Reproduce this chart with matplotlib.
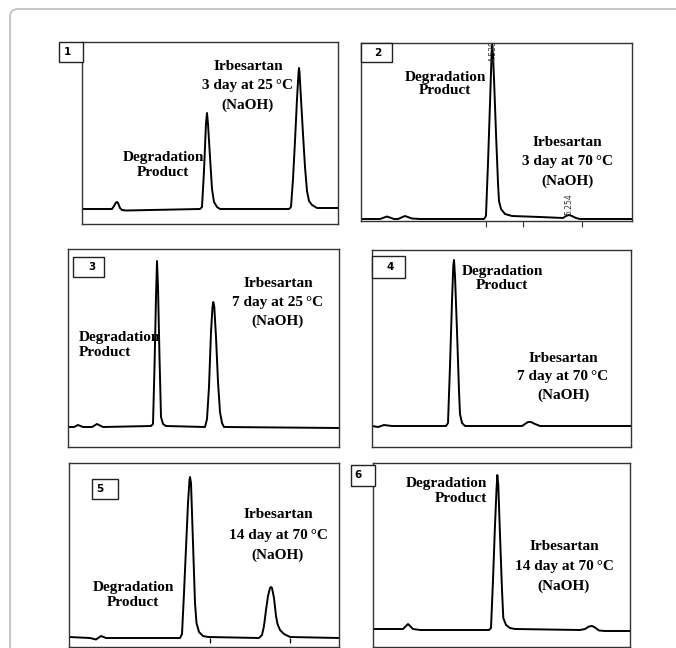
#chromatogramas de degradacion de irbesartan en NaOH
import matplotlib.pyplot as plt
from matplotlib.patches import FancyBboxPatch, Rectangle

W, H = 676, 648

#panel 1: 3 dias a 25 C (tiempo en min, respuesta en mAU)
t1 = [0, 0.75, 0.8, 0.85, 0.875, 0.9, 0.95, 1.0, 1.1,
      2.95, 3.0, 3.05, 3.1, 3.125, 3.15, 3.2, 3.25, 3.3, 3.375, 3.45,
      5.175, 5.225, 5.275, 5.325, 5.375, 5.4125, 5.425, 5.4375, 5.475, 5.525, 5.575, 5.625,
      5.675, 5.75, 5.875, 6.4]
a1 = [0, 0, 3, 6.5, 7, 6, 1, -1, -1.5,
      0, 2, 38, 86, 96, 85, 52, 20, 7, 2, 0,
      0, 2, 30, 68, 110, 136, 141, 137, 110, 75, 42, 18,
      8, 4, 1, 1]

#panel 2: 3 dias a 70 C
t2 = [3.302, 3.481, 3.547, 3.613, 3.651, 3.717, 3.783, 3.859,
      4.463, 4.481, 4.500, 4.519, 4.529, 4.538, 4.547, 4.557, 4.576, 4.595, 4.604, 4.623,
      4.661, 4.727, 4.991, 5.208, 5.236, 5.264, 5.292, 5.330, 5.368, 5.86]
a2 = [0, 0, 2.5, 0, 0, 3, 0.5, 0,
      0, 3, 55, 115, 148, 177, 165, 140, 85, 35, 18, 10,
      5, 3, 2, 1, 3, 4, 3, 1, 0, 0]
rt2 = [4.538, 5.254]
ticks2 = [4.48, 4.83, 5.39]

#panel 3: 7 dias a 25 C
t3 = [0, 0.15, 0.25, 0.375, 0.6, 0.725, 0.875,
      2.075, 2.125, 2.1625, 2.2, 2.225, 2.25, 2.2875, 2.325, 2.375, 2.45,
      3.425, 3.475, 3.525, 3.575, 3.6125, 3.6325, 3.6575, 3.7, 3.75, 3.8, 3.85, 3.9, 6.775]
a3 = [0, 0, 2, 0, 0, 3, 0,
      1, 3, 60, 130, 166, 140, 70, 10, 3, 1,
      0, 8, 40, 95, 120, 125, 120, 90, 45, 15, 4, 0, -1]

#panel 4: 7 dias a 70 C
t4 = [0, 0.15, 0.3, 0.5,
      1.85, 1.9, 1.95, 2.0, 2.0325, 2.05, 2.075, 2.125, 2.175, 2.2, 2.25, 2.325,
      3.75, 3.825, 3.9, 3.975, 4.075, 4.2, 6.475]
a4 = [0, -1, 1, 0,
      0, 3, 60, 125, 160, 166, 150, 95, 35, 12, 3, 0,
      0, 2, 4, 4, 2, 0, 0]

#panel 5: 14 dias a 70 C
t5 = [0, 0.525, 0.675, 0.8, 0.925, 1.15,
      2.775, 2.825, 2.875, 2.925, 2.975, 3.0125, 3.025, 3.05, 3.075, 3.1125, 3.15, 3.1875,
      3.25, 3.35, 3.475,
      4.75, 4.825, 4.875, 4.925, 4.975, 5.025, 5.05, 5.075, 5.125, 5.175, 5.2125, 5.275,
      5.375, 5.525, 6.75]
a5 = [1, 0, -1.5, 2, 0, 0,
      0, 4, 45, 90, 135, 158, 161, 155, 125, 80, 35, 15,
      6, 2, 1,
      0, 3, 12, 28, 42, 50, 51, 50, 40, 22, 14, 8,
      4, 1, 0]
ticks5 = [3.525, 5.525]

#panel 6: 14 dias a 70 C
t6 = [0, 0.75, 0.825, 0.875, 0.925, 1.0, 1.175,
      2.9, 2.95, 3.0, 3.05, 3.0875, 3.1075, 3.1325, 3.175, 3.225, 3.2575, 3.325, 3.425, 3.55,
      5.175, 5.3, 5.4, 5.475, 5.55, 5.65, 5.8, 6.425]
a6 = [1, 1, 4, 6, 4, 1, 0,
      0, 2, 50, 105, 140, 155, 145, 95, 40, 12, 5, 2, 1,
      0, 1, 3.5, 4, 2.5, -0.5, -1, -1]

#caja de cada panel en pixeles: izquierda, arriba, derecha, abajo, linea base
cajas = [(82, 42, 338, 224, 209), (361, 43, 632, 221, 219),
         (68, 249, 339, 447, 427), (372, 250, 631, 447, 426),
         (69, 463, 339, 647, 638), (373, 463, 630, 647, 630)]
numeros = [(59, 42, 83, 62, 67), (361, 43, 392, 62, 378), (73, 257, 104, 277, 92),
           (372, 256, 405, 278, 390), (92, 479, 118, 499, 100), (351, 465, 375, 486, 358)]

serif = {'family': 'Liberation Serif', 'weight': 'bold', 'size': 11}

def fx(x):
    return x / W

def fy(y):
    return 1 - y / H

def etiqueta(lineas, x, y0, dy, ha='center'):
    for k, s in enumerate(lineas):
        fig.text(fx(x), fy(y0 + k * dy), s, ha=ha, va='center', **serif)

fig = plt.figure(figsize=(6.76, 6.48), dpi=100)

#marco exterior
marco = FancyBboxPatch((fx(10), fy(760)), fx(760), 751 / H, boxstyle='round,pad=0,rounding_size=0.012',
                       transform=fig.transFigure, fill=False, ec='#bdbdbd', lw=1.2)
fig.patches.append(marco)

datos = [(t1, a1), (t2, a2), (t3, a3), (t4, a4), (t5, a5), (t6, a6)]
ejes = []
for (t, a), (l, tp, r, b, base) in zip(datos, cajas):
    ax = fig.add_axes([fx(l), fy(b), (r - l) / W, (b - tp) / H])
    escala = 40.0
    x0 = 0
    if t is t2:
        escala = 106.0
        x0 = 4.538 - (492 - l) / escala
    ax.set_xlim(x0, x0 + (r - l) / escala)
    ax.set_ylim(-(b - base), base - tp)
    ax.plot(t, a, color='black', lw=1.4, solid_joinstyle='round')
    ax.set_xticks([])
    ax.set_yticks([])
    for s in ax.spines.values():
        s.set_color('#333333')
        s.set_linewidth(1.0)
    ejes.append(ax)

#marcas y tiempos de retencion del panel 2
ax2 = ejes[1]
ax2.set_xticks(ticks2)
ax2.tick_params(axis='x', direction='out', length=4, width=0.8, labelbottom=False, color='#333333')
ax2.text(rt2[0] + 0.012, 168, '%.3f' % rt2[0], rotation=90, ha='center', va='center',
         fontsize=5.5, color='#333333', zorder=5)
ax2.text(rt2[1] + 0.012, 15, '%.3f' % rt2[1], rotation=90, ha='center', va='center',
         fontsize=5.5, color='#333333', zorder=5)

#marcas del panel 5
ejes[4].vlines(ticks5, -5, 0, color='black', lw=0.9)

#recuadros numerados
for k, (l, tp, r, b, xc) in enumerate(numeros):
    fig.patches.append(Rectangle((fx(l), fy(b)), (r - l) / W, (b - tp) / H, transform=fig.transFigure,
                                 fill=True, fc='white', ec='#222222', lw=1.0, zorder=5))
    fig.text(fx(xc), fy((tp + b) / 2), str(k + 1), ha='center', va='center', fontsize=7.5,
             fontweight='bold', family='DejaVu Sans', zorder=6)

#textos
etiqueta(['Irbesartan', '3 day at 25\u2009°C', '(NaOH)'], 248, 66, 19.5)
etiqueta(['Degradation', 'Product'], 163, 158, 14)
etiqueta(['Degradation', 'Product'], 445, 77, 13.5)
etiqueta(['Irbesartan', '3 day at 70\u2009°C', '(NaOH)'], 567, 143, 19)
etiqueta(['Irbesartan', '7 day at 25\u2009°C', '(NaOH)'], 278, 284, 18.5)
etiqueta(['Degradation', 'Product'], 79, 337, 15, ha='left')
etiqueta(['Degradation', 'Product'], 502, 271, 14)
etiqueta(['Irbesartan', '7 day at 70\u2009°C', '(NaOH)'], 563, 358, 18.5)
etiqueta(['Irbesartan', '14 day at 70\u2009°C', '(NaOH)'], 278, 515, 20)
etiqueta(['Degradation', 'Product'], 133, 588, 15)
etiqueta(['Degradation', 'Product'], 487, 484, 15, ha='right')
etiqueta(['Irbesartan', '14 day at 70\u2009°C', '(NaOH)'], 564, 547, 19.5)

fig.savefig('out.png', dpi=100)
